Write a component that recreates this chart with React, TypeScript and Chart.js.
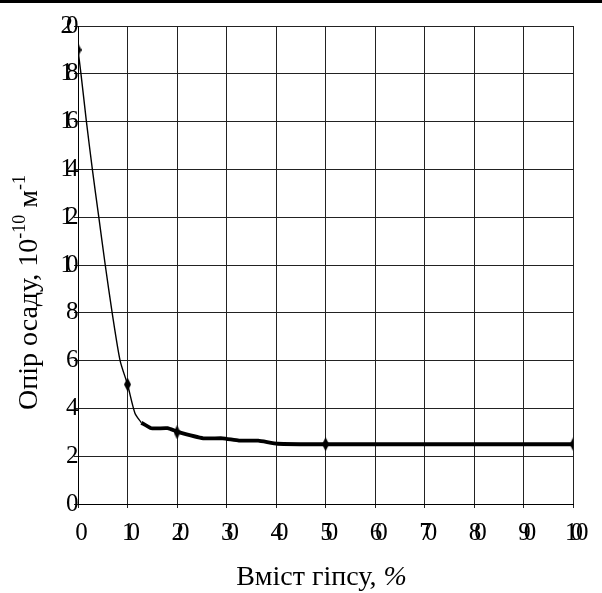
import React, { useEffect, useRef } from "react";
import { Chart, registerables } from "chart.js";

Chart.register(...registerables);

// X tick labels (gypsum content, %) and Y tick labels
const xTickLabels = ["0", "10", "20", "30", "40", "50", "60", "70", "80", "90", "100"];
const yTickLabels = ["0", "2", "4", "6", "8", "10", "12", "14", "16", "18", "20"];

// Thin part of the curve
const thinX = [0, 0.06, 0.17, 0.29, 0.42, 0.55, 0.69, 0.85, 1, 1.15, 1.28];
const thinY = [19, 18, 16, 14, 12, 10, 8, 6, 5, 3.8, 3.4];

// Thick part of the curve
const thickX = [1.28, 1.48, 1.81, 2, 2.53, 2.92, 3.25, 3.64, 4.03, 5, 10];
const thickY = [3.4, 3.17, 3.17, 3.03, 2.75, 2.75, 2.65, 2.65, 2.52, 2.5, 2.5];

// Measured points (markers)
const markX = [0, 1, 2, 5, 10];
const markY = [19, 5, 3, 2.5, 2.5];

const FONT = '"Liberation Serif", "Times New Roman", serif';

function makeDiamond(): HTMLCanvasElement {
  const c = document.createElement("canvas");
  c.width = 7;
  c.height = 14;
  const g = c.getContext("2d")!;
  g.fillStyle = "#000";
  g.beginPath();
  g.moveTo(3.5, 0);
  g.lineTo(7, 7);
  g.lineTo(3.5, 14);
  g.lineTo(0, 7);
  g.closePath();
  g.fill();
  return c;
}

const titlesPlugin = {
  id: "titlesPlugin",
  beforeDraw(chart: any) {
    (chart.ctx as any).letterSpacing = "-7px";
  },
  afterDraw(chart: any) {
    const ctx = chart.ctx as any;
    ctx.save();
    ctx.letterSpacing = "0px";
    ctx.fillStyle = "#000";
    ctx.textAlign = "left";
    ctx.textBaseline = "alphabetic";

    // Y axis title with superscripts
    const big = `28px ${FONT}`;
    const small = `18px ${FONT}`;
    const parts = [
      { t: "Опір осаду, 10", f: big, dy: 0 },
      { t: "-10", f: small, dy: -12 },
      { t: " м", f: big, dy: 0 },
      { t: "-1", f: small, dy: -12 },
    ];
    let W = 0;
    for (const p of parts) {
      ctx.font = p.f;
      W += ctx.measureText(p.t).width;
    }
    ctx.save();
    ctx.translate(37, 292.5);
    ctx.rotate(-Math.PI / 2);
    let x = -W / 2;
    for (const p of parts) {
      ctx.font = p.f;
      ctx.fillText(p.t, x, p.dy);
      x += ctx.measureText(p.t).width;
    }
    ctx.restore();

    // X axis title
    const xparts = [
      { t: "Вміст гіпсу, ", f: `28px ${FONT}` },
      { t: "%", f: `italic 28px ${FONT}` },
    ];
    let XW = 0;
    for (const p of xparts) {
      ctx.font = p.f;
      XW += ctx.measureText(p.t).width;
    }
    let xx = 321.5 - XW / 2;
    for (const p of xparts) {
      ctx.font = p.f;
      ctx.fillText(p.t, xx, 585);
      xx += ctx.measureText(p.t).width;
    }
    ctx.restore();
    ctx.letterSpacing = "0px";
  },
};

export default function App() {
  const ref = useRef<HTMLCanvasElement | null>(null);

  useEffect(() => {
    document.body.style.margin = "0";
    if (!ref.current) return;
    const diamond = makeDiamond();
    const toPts = (xs: number[], ys: number[]) => xs.map((v, i) => ({ x: v, y: ys[i] }));
    const chart = new Chart(ref.current, {
      type: "line",
      data: {
        datasets: [
          {
            data: toPts(thinX, thinY),
            borderColor: "#000",
            borderWidth: 1.4,
            pointRadius: 0,
            tension: 0.25,
            fill: false,
          },
          {
            data: toPts(thickX, thickY),
            borderColor: "#000",
            borderWidth: 3.8,
            pointRadius: 0,
            tension: 0.15,
            fill: false,
          },
          {
            data: toPts(markX, markY),
            showLine: false,
            pointStyle: diamond as any,
            pointRadius: 6,
            borderColor: "#000",
            backgroundColor: "#000",
          },
        ],
      },
      options: {
        responsive: false,
        animation: false,
        layout: { padding: { top: 26, right: 15, left: 0, bottom: 0 } },
        plugins: { legend: { display: false }, tooltip: { enabled: false } },
        scales: {
          x: {
            type: "linear",
            min: 0,
            max: 10,
            afterFit: (s: any) => {
              s.height = 89;
            },
            ticks: {
              stepSize: 1,
              autoSkip: false,
              maxRotation: 0,
              padding: 10,
              color: "#000",
              font: { family: FONT, size: 25 },
              callback: (_v: any, i: number) => xTickLabels[i],
            },
            grid: { color: "#222", lineWidth: 1, tickLength: 4 },
            border: { color: "#000", width: 1 },
          },
          y: {
            min: 0,
            max: 20,
            afterFit: (s: any) => {
              s.width = 78;
            },
            ticks: {
              stepSize: 2,
              padding: 2.5,
              color: "#000",
              font: { family: FONT, size: 25 },
              callback: (_v: any, i: number) => yTickLabels[i],
            },
            grid: { color: "#222", lineWidth: 1, tickLength: 4 },
            border: { color: "#000", width: 1 },
          },
        },
      },
      plugins: [titlesPlugin],
    });
    return () => chart.destroy();
  }, []);

  return (
    <div style={{ position: "relative", width: 602, height: 593, background: "#fff" }}>
      <canvas ref={ref} width={602} height={593} style={{ display: "block" }} />
      <div
        style={{ position: "absolute", left: 0, top: 0, width: 602, height: 3, background: "#000" }}
      />
    </div>
  );
}
